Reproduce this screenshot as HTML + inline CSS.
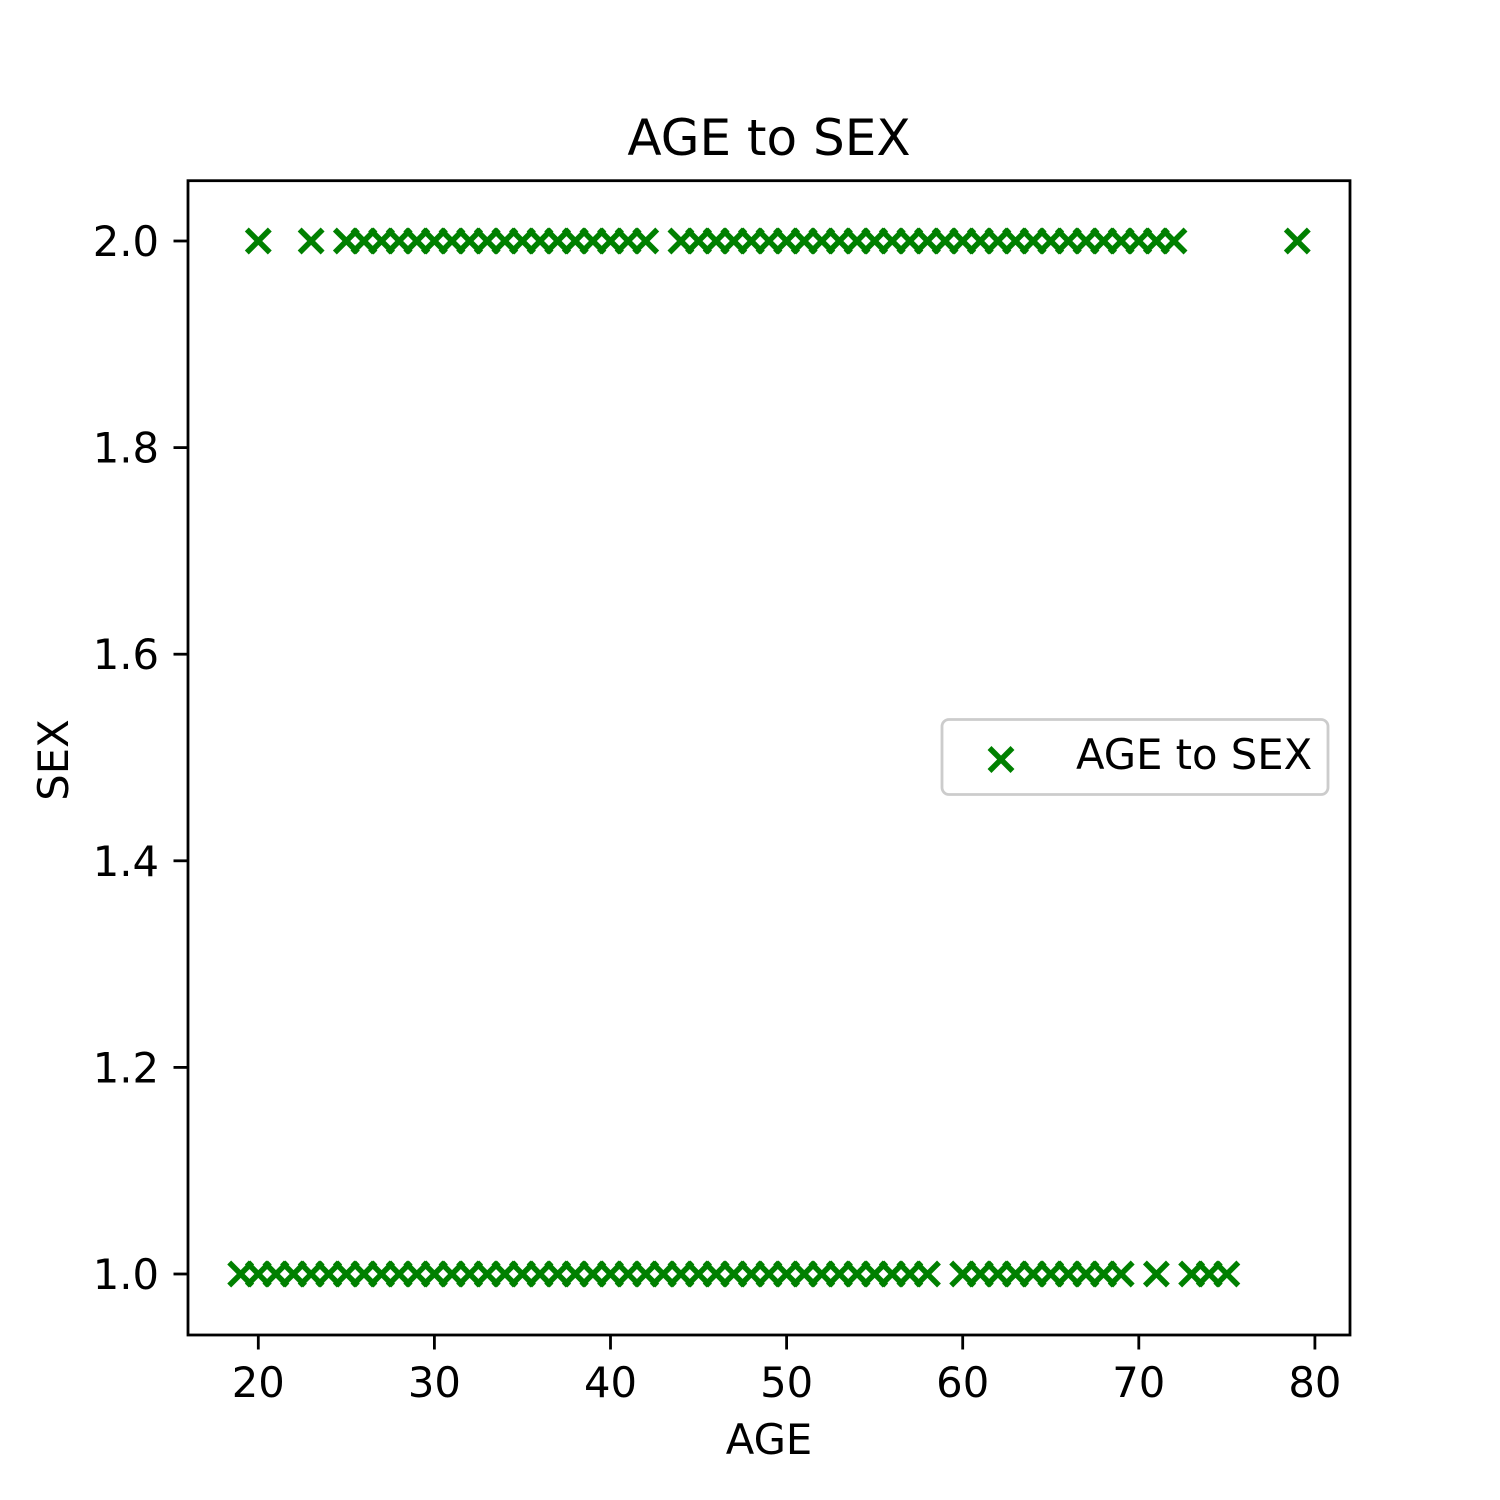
<!DOCTYPE html>
<html>
<head>
<meta charset="utf-8">
<style>
html,body{margin:0;padding:0;background:#fff;}
svg{display:block;}
text{font-family:"DejaVu Sans","Liberation Sans",sans-serif;fill:#000;}
</style>
</head>
<body>
<svg id="chart" width="1500" height="1500" viewBox="0 0 1500 1500" xmlns="http://www.w3.org/2000/svg">
  <rect x="0" y="0" width="1500" height="1500" fill="#fff"/>
  <text x="769" y="155" font-size="50" text-anchor="middle">AGE to SEX</text>
  <g id="marks"></g>
  <g id="axes"></g>
  <rect x="188" y="180.7" width="1162" height="1154.3" fill="none" stroke="#000" stroke-width="2.8"/>
  <text x="769" y="1454" font-size="41.7" text-anchor="middle">AGE</text>
  <text transform="translate(68,760) rotate(-90)" font-size="41.7" text-anchor="middle">SEX</text>
  <g>
    <rect x="942" y="719.5" width="386" height="75" rx="7" fill="#fff" fill-opacity="0.8" stroke="#cccccc" stroke-width="2.8"/>
    <g stroke="#008000" stroke-width="5.5">
      <line x1="989.5" y1="748" x2="1012.5" y2="771"/>
      <line x1="989.5" y1="771" x2="1012.5" y2="748"/>
    </g>
    <text x="1076" y="769" font-size="41.7">AGE to SEX</text>
  </g>
</svg>
<script>
const ageSex2 = [20,23,25,26,27,28,29,30,31,32,33,34,35,36,37,38,39,40,41,42,44,45,46,47,48,49,50,51,52,53,54,55,56,57,58,59,60,61,62,63,64,65,66,67,68,69,70,71,72,79];
const ageSex1 = [19,20,21,22,23,24,25,26,27,28,29,30,31,32,33,34,35,36,37,38,39,40,41,42,43,44,45,46,47,48,49,50,51,52,53,54,55,56,57,58,60,61,62,63,64,65,66,67,68,69,71,73,74,75];
const xTicks = [20,30,40,50,60,70,80];
const yTicks = [1.0,1.2,1.4,1.6,1.8,2.0];
const xTickLabels = ["20","30","40","50","60","70","80"];
const yTickLabels = ["1.0","1.2","1.4","1.6","1.8","2.0"];

const NS = "http://www.w3.org/2000/svg";
function xScale(v){ return 258.3 + (v - 20) * 17.61; }
function yScale(v){ return 1274 - (v - 1.0) * 1033; }

const marks = document.getElementById('marks');
function addPoint(age, sex){
  const g = document.createElementNS(NS,'g');
  
  
  g.setAttribute('stroke', '#008000');
  g.setAttribute('stroke-width', '5.5');
  const cx = xScale(age), cy = yScale(sex), h = 11.5;
  const l1 = document.createElementNS(NS,'line');
  l1.setAttribute('x1', cx-h); l1.setAttribute('y1', cy-h);
  l1.setAttribute('x2', cx+h); l1.setAttribute('y2', cy+h);
  const l2 = document.createElementNS(NS,'line');
  l2.setAttribute('x1', cx-h); l2.setAttribute('y1', cy+h);
  l2.setAttribute('x2', cx+h); l2.setAttribute('y2', cy-h);
  g.appendChild(l1); g.appendChild(l2);
  marks.appendChild(g);
}
ageSex2.forEach(a => addPoint(a, 2));
ageSex1.forEach(a => addPoint(a, 1));

const axes = document.getElementById('axes');
xTicks.forEach((t,i) => {
  const x = xScale(t);
  const ln = document.createElementNS(NS,'line');
  
  
  ln.setAttribute('x1', x); ln.setAttribute('x2', x);
  ln.setAttribute('y1', 1335); ln.setAttribute('y2', 1349.5);
  ln.setAttribute('stroke', '#000'); ln.setAttribute('stroke-width', '2.8');
  axes.appendChild(ln);
  const tx = document.createElementNS(NS,'text');
  
  
  tx.setAttribute('x', x); tx.setAttribute('y', 1397);
  tx.setAttribute('font-size', '41.7'); tx.setAttribute('text-anchor', 'middle');
  tx.textContent = xTickLabels[i];
  axes.appendChild(tx);
});
yTicks.forEach((t,i) => {
  const y = yScale(t);
  const ln = document.createElementNS(NS,'line');
  
  
  ln.setAttribute('x1', 173.5); ln.setAttribute('x2', 188);
  ln.setAttribute('y1', y); ln.setAttribute('y2', y);
  ln.setAttribute('stroke', '#000'); ln.setAttribute('stroke-width', '2.8');
  axes.appendChild(ln);
  const tx = document.createElementNS(NS,'text');
  
  
  tx.setAttribute('x', 159); tx.setAttribute('y', y + 15);
  tx.setAttribute('font-size', '41.7'); tx.setAttribute('text-anchor', 'end');
  tx.textContent = yTickLabels[i];
  axes.appendChild(tx);
});
</script>
</body>
</html>
